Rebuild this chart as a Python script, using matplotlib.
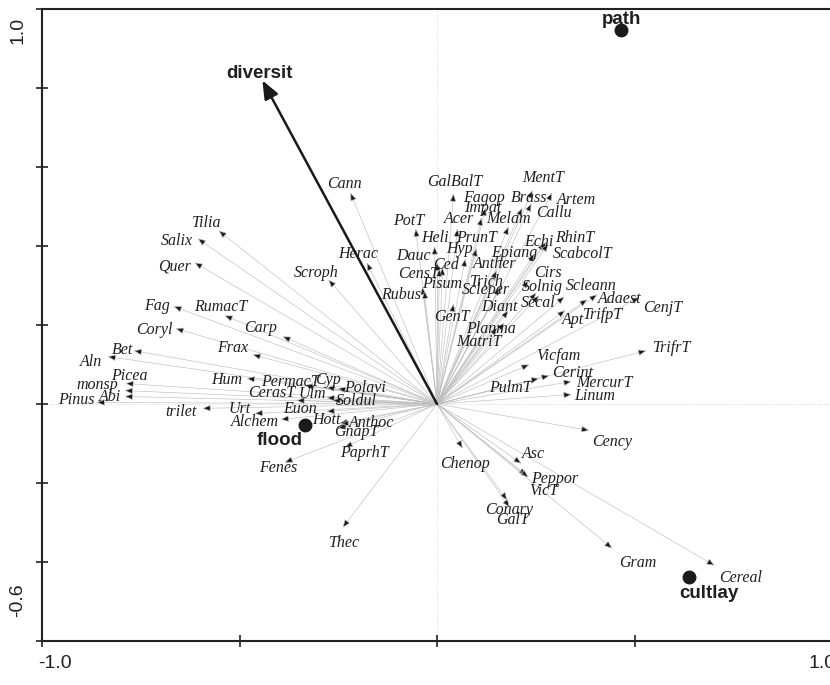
import matplotlib
matplotlib.use("Agg")
import matplotlib.pyplot as plt
import numpy as np

# species scores (arrow tips)
species = ["Cann", "GalBalT", "MentT", "Artem", "Fagop", "Brass", "Impat", "Callu",
           "Acer", "Melam", "PotT", "Heli", "PrunT", "Echi", "RhinT", "Hyp", "Epiang",
           "ScabcolT", "Dauc", "Ced", "CensT", "Anther", "Pisum", "Rubus", "Trich",
           "Scleper", "Cirs", "Solnig", "Scleann", "Adaest", "CenjT", "Secal", "Diant",
           "GenT", "Apt", "TrifpT", "Planma", "MatriT", "TrifrT", "Vicfam", "Cerint",
           "MercurT", "Linum", "PulmT", "Cency", "Chenop", "Asc", "Peppor", "VicT",
           "Conary", "GalT", "Gram", "Cereal", "Thec", "Tilia", "Salix", "Quer", "Herac",
           "Scroph", "Fag", "RumacT", "Coryl", "Carp", "Bet", "Aln", "Frax", "Picea",
           "monsp", "Abi", "Pinus", "Hum", "PermacT", "Cyp", "Polavi", "CerasT", "Ulm",
           "Soldul", "trilet", "Urt", "Euon", "Alchem", "Hott", "Anthoc", "GnapT",
           "PaprhT", "Fenes"]
sp_x = [-0.219, 0.042, 0.242, 0.292, 0.123, 0.216, 0.113, 0.239,
        0.052, 0.181, -0.054, -0.006, 0.100, 0.272, 0.277, 0.072, 0.247,
        0.282, 0.001, 0.014, 0.006, 0.151, -0.037, -0.032, 0.163,
        0.158, 0.232, 0.252, 0.323, 0.406, 0.513, 0.259, 0.181,
        0.042, 0.325, 0.381, 0.171, 0.153, 0.530, 0.234, 0.285,
        0.341, 0.341, 0.259, 0.386, 0.065, 0.214, 0.227, 0.232,
        0.178, 0.184, 0.444, 0.703, -0.239, -0.553, -0.606, -0.614, -0.178,
        -0.275, -0.667, -0.538, -0.662, -0.391, -0.768, -0.834, -0.467, -0.789,
        -0.791, -0.791, -0.862, -0.482, -0.335, -0.280, -0.252, -0.356, -0.280,
        -0.265, -0.594, -0.462, -0.280, -0.396, -0.247, -0.244, -0.252,
        -0.234, -0.386]
sp_y = [0.535, 0.533, 0.541, 0.535, 0.497, 0.497, 0.472, 0.508,
        0.444, 0.449, 0.444, 0.399, 0.394, 0.409, 0.411, 0.368, 0.381,
        0.406, 0.358, 0.346, 0.343, 0.338, 0.297, 0.287, 0.300,
        0.295, 0.313, 0.282, 0.272, 0.277, 0.270, 0.275, 0.237,
        0.254, 0.237, 0.265, 0.206, 0.194, 0.135, 0.100, 0.072,
        0.057, 0.024, 0.065, -0.067, -0.113, -0.151, -0.181, -0.186,
        -0.244, -0.262, -0.366, -0.409, -0.313, 0.439, 0.419, 0.358, 0.358,
        0.315, 0.247, 0.224, 0.191, 0.171, 0.135, 0.120, 0.125, 0.052,
        0.034, 0.019, 0.004, 0.065, 0.047, 0.042, 0.039, 0.009, 0.016,
        0.009, -0.011, -0.024, -0.019, -0.039, -0.049, -0.052, -0.062,
        -0.110, -0.148]

# quantitative environmental variable
env_name = "diversit"
env_x, env_y = -0.442, 0.819

# nominal variables (centroids)
nominal = ["path", "flood", "cultlay"]
nom_x = [0.467, -0.333, 0.637]
nom_y = [0.948, -0.054, -0.439]

# label placement, pixel offsets from the arrow tip
lab_off = [(-6, 9), (1.5, 11), (10.5, 12), (24.5, -7), (-2, 10), (6.5, 10), (1.5, 10), (22.5, -10),
           (1, 10), (-0.5, 8), (-7, 8), (0, 8), (0.5, 10), (-6, 0), (28, 4), (-5.5, 10), (-20.5, 1),
           (34, -10), (-23.5, 7), (3.5, 2), (-21, -5), (-2, 6), (19.5, 3), (-23.5, -4), (-14, 3),
           (-14, -3), (19.5, 7), (5.5, 6), (27, 11), (22, -4), (23, -11), (-1.5, -8), (-9.5, 3),
           (-1.5, -13), (8, -10), (16, -16), (-14, -6), (-18, -15), (25.5, 3), (29, 9), (23, 3),
           (33, -2), (23, -1), (-28.5, -10), (23, -12), (2, -15), (11.5, 10), (27.5, -4), (15.5, -14),
           (2, -10), (2.5, -13), (25.5, -14), (26, -12), (2, -15), (-11.5, 8), (-20.5, -3), (-19.5, -4), (-8.5, 9),
           (-12.5, 7), (-16.5, 0), (-3.5, 9), (-21, -1), (-22, 8), (-11, 1), (-17, -5), (-20, 7), (3.5, 7),
           (-27.5, 6), (-15, -1), (-20, 2), (-20, -2), (-14, 3), (1.5, 7), (28, 1), (-25, 7), (-14.5, 4),
           (24, -1), (-21.5, -4), (-15, 4), (-26, 3), (-26, -3), (-13.5, 3), (30.5, 2), (19, -4),
           (20, -6), (-6.5, -6)]
nom_off = [(0, 10), (-26, -15), (20, -16)]

fig = plt.figure(figsize=(8.3, 6.85), dpi=100)
ax = fig.add_axes([42 / 830, 44 / 685, 790 / 830, 632 / 685])
ax.set_xlim(-1.0, 1.0)
ax.set_ylim(-0.6, 1.0)

ax.axhline(0, color="#d0d0d0", lw=0.6, ls=":", zorder=0)
ax.axvline(0, color="#d0d0d0", lw=0.6, ls=":", zorder=0)

# species arrows
for name, x, y, off in zip(species, sp_x, sp_y, lab_off):
    ax.annotate("", xy=(x, y), xytext=(0, 0),
                arrowprops=dict(arrowstyle="-|>,head_length=0.5,head_width=0.2",
                                fc="#1a1a1a", ec="#bfbfbf", lw=0.45,
                                shrinkA=0, shrinkB=0), zorder=2)
    ax.annotate(name, xy=(x, y), xytext=off, textcoords="offset pixels",
                ha="center", va="center", fontsize=11.5, style="italic",
                family="Liberation Serif", color="#231f20", zorder=4)

# environmental arrow
ax.annotate("", xy=(env_x, env_y), xytext=(0, 0),
            arrowprops=dict(arrowstyle="-|>,head_length=1.1,head_width=0.45",
                            fc="#1a1a1a", ec="#1a1a1a", lw=1.8,
                            shrinkA=0, shrinkB=0), zorder=5)
ax.annotate(env_name, xy=(env_x, env_y), xytext=(-3, 7), textcoords="offset pixels",
            ha="center", va="center", fontsize=13.5, fontweight="bold",
            family="Liberation Sans", color="#231f20", zorder=6)

# nominal centroids
ax.plot(nom_x, nom_y, "o", color="#1a1a1a", ms=9, zorder=6)
for name, x, y, off in zip(nominal, nom_x, nom_y, nom_off):
    ax.annotate(name, xy=(x, y), xytext=off, textcoords="offset pixels",
                ha="center", va="center", fontsize=13.5, fontweight="bold",
                family="Liberation Sans", color="#231f20", zorder=6)

# frame and ticks
ax.spines["right"].set_visible(False)
for s in ["left", "bottom", "top"]:
    ax.spines[s].set_linewidth(1.5)
    ax.spines[s].set_color("#222222")
ax.set_xticks([-1.0, -0.5, 0.0, 0.5, 1.0])
ax.set_yticks(np.arange(-0.6, 1.01, 0.2))
ax.set_xticklabels([])
ax.set_yticklabels([])
ax.tick_params(direction="inout", length=8, width=1.2, color="#222222")

lab = dict(fontsize=14, family="Liberation Sans", color="#231f20", ha="center", va="center")
fig.text(18 / 830, 1 - 30 / 685, "1.0", rotation=90, **lab)
fig.text(18 / 830, 1 - 600 / 685, "-0.6", rotation=90, **lab)
fig.text(55 / 830, 1 - 663 / 685, "-1.0", **lab)
fig.text(822 / 830, 1 - 663 / 685, "1.0", **lab)

fig.savefig("out.png", dpi=100)
